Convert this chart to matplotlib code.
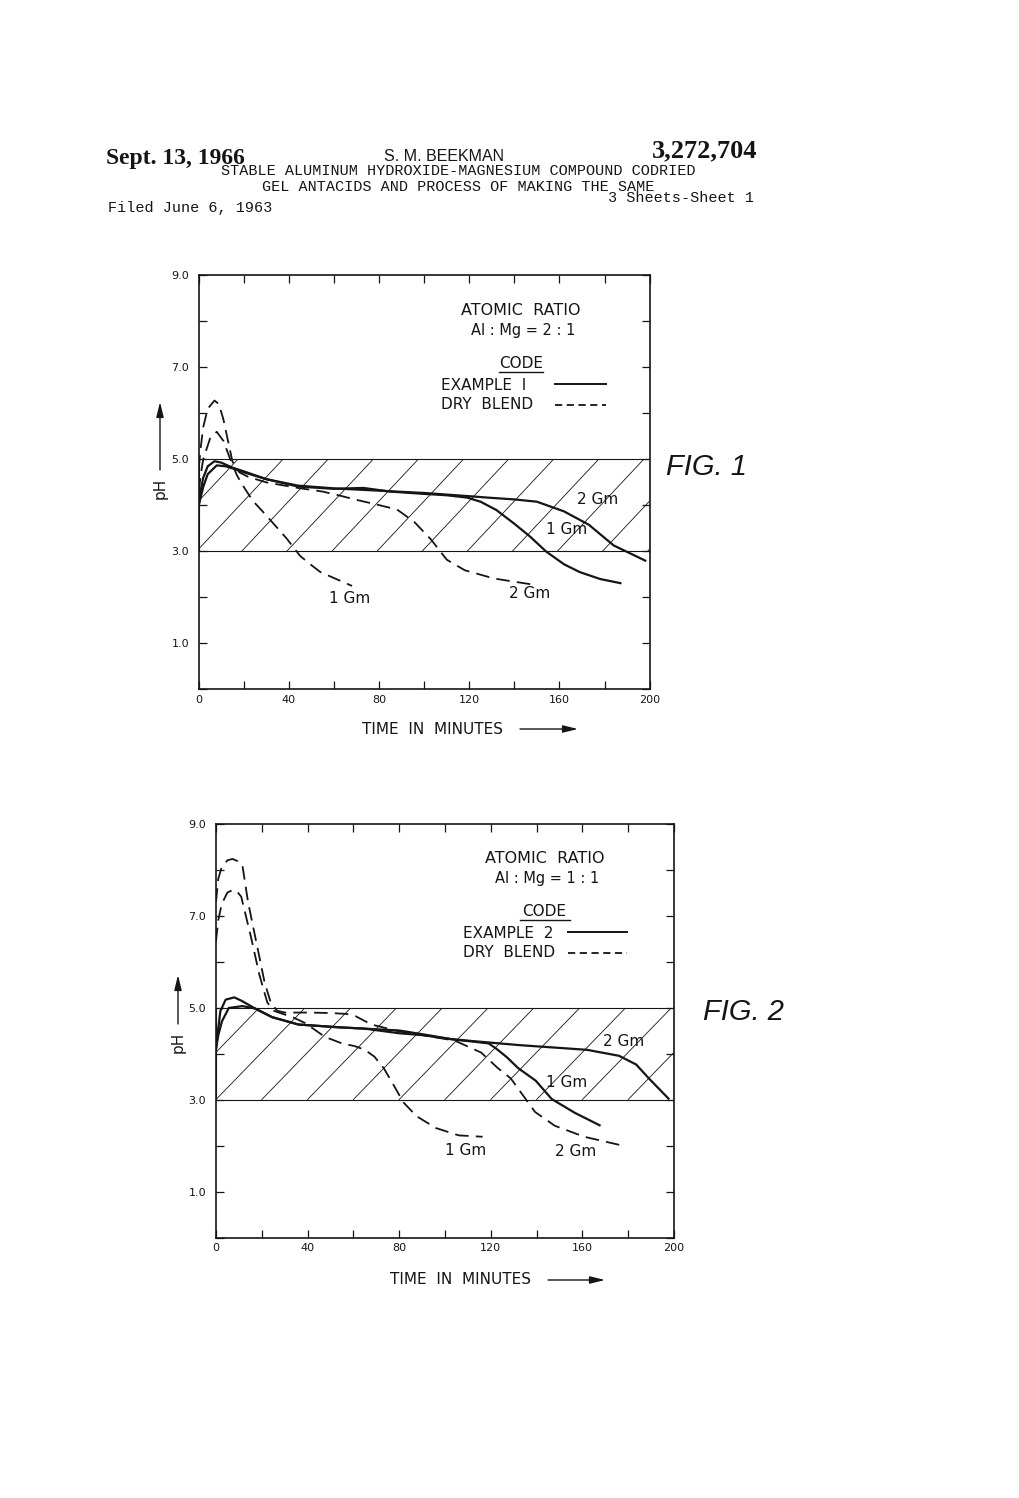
import matplotlib
matplotlib.use('Agg')
import matplotlib.pyplot as plt
from matplotlib.patches import Rectangle

W, H = 1020, 1498
INK = '#151515'

# ---------------- data ----------------
x_ticks = [0, 20, 40, 60, 80, 100, 120, 140, 160, 180, 200]
x_tick_labels = ['0', '', '40', '', '80', '', '120', '', '160', '', '200']
y_ticks = [0, 1, 2, 3, 4, 5, 6, 7, 8, 9]
y_tick_labels = ['', '1.0', '', '3.0', '', '5.0', '', '7.0', '', '9.0']
band_low, band_high = 3.0, 5.0

# FIG. 1  (Al:Mg = 2:1)
f1_ex_2gm_t = [0, 1, 2, 4, 7, 10, 15, 20, 30, 44, 60, 80, 100, 120, 128, 140, 150, 162, 173, 184, 198]
f1_ex_2gm_ph = [4.0, 4.35, 4.6, 4.85, 4.96, 4.93, 4.82, 4.74, 4.57, 4.43, 4.37, 4.32, 4.27, 4.2, 4.17, 4.13, 4.08, 3.87, 3.58, 3.13, 2.8]
f1_ex_1gm_t = [0, 1, 2, 4, 8, 12, 16, 20, 30, 44, 60, 73, 85, 100, 110, 119, 125, 132, 140, 147, 154, 162, 169, 178, 187]
f1_ex_1gm_ph = [4.0, 4.2, 4.4, 4.68, 4.87, 4.85, 4.79, 4.72, 4.57, 4.41, 4.36, 4.38, 4.3, 4.25, 4.22, 4.17, 4.08, 3.9, 3.6, 3.32, 3.0, 2.72, 2.55, 2.4, 2.31]
f1_db_2gm_t = [0, 1, 2, 4, 7, 9, 11, 13, 15, 18, 22, 30, 44, 55, 62, 70, 78, 88, 95.6, 103, 110, 118, 131, 148]
f1_db_2gm_ph = [4.8, 5.3, 5.7, 6.1, 6.28, 6.2, 5.86, 5.4, 4.95, 4.72, 4.62, 4.5, 4.38, 4.3, 4.22, 4.12, 4.03, 3.91, 3.64, 3.26, 2.82, 2.59, 2.41, 2.28]
f1_db_1gm_t = [0, 1, 2, 5, 8, 11, 14, 17, 20, 24, 30, 39, 45, 50, 54, 60, 68]
f1_db_1gm_ph = [4.3, 4.7, 5.0, 5.45, 5.6, 5.4, 5.0, 4.65, 4.4, 4.1, 3.78, 3.28, 2.9, 2.7, 2.55, 2.42, 2.25]

# FIG. 2  (Al:Mg = 1:1)
f2_ex_2gm_t = [0, 1, 1.9, 4.2, 8, 11, 17, 24.5, 36, 53.5, 65, 80, 90, 103, 119, 133, 162, 176, 183.5, 189, 197.6]
f2_ex_2gm_ph = [4.1, 4.55, 4.92, 5.17, 5.22, 5.15, 4.98, 4.79, 4.63, 4.57, 4.54, 4.44, 4.4, 4.31, 4.24, 4.18, 4.08, 3.95, 3.76, 3.46, 3.02]
f2_ex_1gm_t = [0, 1, 2.6, 5.6, 11.5, 17, 24.5, 36, 53.5, 65, 80, 90, 103, 119, 122, 127, 132, 139.6, 146.6, 156.7, 167.5]
f2_ex_1gm_ph = [4.1, 4.4, 4.7, 4.99, 5.03, 4.98, 4.79, 4.63, 4.57, 4.54, 4.5, 4.42, 4.31, 4.22, 4.12, 3.92, 3.68, 3.41, 3.01, 2.71, 2.44]
f2_db_2gm_t = [0, 1, 2.5, 5, 7.2, 9.5, 11.5, 14, 17.9, 21.2, 23.9, 26.7, 30, 40, 50, 57, 61, 67.5, 69.5, 80, 90, 104.3, 115.8, 122.9, 128.7, 132.9, 139.3, 147.9, 160.8, 178.2]
f2_db_2gm_ph = [7.3, 7.8, 8.05, 8.2, 8.23, 8.18, 8.1, 7.29, 6.35, 5.55, 5.11, 4.93, 4.89, 4.89, 4.88, 4.86, 4.81, 4.64, 4.61, 4.48, 4.4, 4.28, 4.02, 3.69, 3.46, 3.17, 2.73, 2.43, 2.19, 1.99]
f2_db_1gm_t = [0, 1, 2.5, 5, 7.6, 9.5, 11, 15.1, 19, 22.4, 25.2, 28, 33, 39, 47.6, 55, 60.6, 65, 69.2, 73.4, 77.6, 81.8, 87.5, 96, 106, 116.4]
f2_db_1gm_ph = [6.44, 6.9, 7.25, 7.5, 7.56, 7.5, 7.41, 6.57, 5.7, 5.11, 4.93, 4.88, 4.8, 4.66, 4.36, 4.22, 4.16, 4.08, 3.93, 3.67, 3.31, 2.94, 2.64, 2.38, 2.22, 2.19]

# ---------------- figure ----------------
fig = plt.figure(figsize=(W / 100, H / 100), dpi=100)
fig.patch.set_facecolor('white')
SANS = ['DejaVu Sans']


def fx(x):
    return x / W


def fy(y):
    return 1 - y / H


def make_axes(left, top, right, bottom):
    ax = fig.add_axes([fx(left), fy(bottom), (right - left) / W, (bottom - top) / H])
    ax.set_xlim(0, 200)
    ax.set_ylim(0, 9)
    ax.set_xticks(x_ticks)
    ax.set_xticklabels(x_tick_labels)
    ax.set_yticks(y_ticks)
    ax.set_yticklabels(y_tick_labels)
    ax.tick_params(axis='both', direction='in', length=6, width=0.9, top=True, right=True,
                   labelsize=8, colors=INK)
    ax.tick_params(axis='x', pad=4)
    ax.tick_params(axis='y', pad=7)
    for s in ax.spines.values():
        s.set_linewidth(1.2)
        s.set_color(INK)
    for lab in ax.get_xticklabels() + ax.get_yticklabels():
        lab.set_fontfamily(SANS)
    return ax


def band(ax, phase, run):
    rect = Rectangle((0, band_low), 200, band_high - band_low, fill=False, lw=0.8,
                     ec=INK, transform=ax.transData)
    ax.add_patch(rect)
    for k in range(-3, 11):
        t0 = 20 * k + phase
        ln, = ax.plot([t0, t0 + run], [band_low, band_high], color=INK, lw=0.6)
        ln.set_clip_path(rect)


def curves(ax, sets):
    for t, p, dashed in sets:
        if dashed:
            ax.plot(t, p, color=INK, lw=1.3, linestyle=(0, (7.5, 4)), solid_capstyle='butt')
        else:
            ax.plot(t, p, color=INK, lw=1.6)


def legend_block(ax, ratio_txt, ex_txt, t_center, t_left, t_l0, t_l1, ul0, ul1):
    kw = dict(color=INK, family=SANS)
    ax.text(t_center, 8.24, 'ATOMIC  RATIO', ha='center', va='center', fontsize=11.5, **kw)
    ax.text(t_center + 1, 7.80, ratio_txt, ha='center', va='center', fontsize=10.5, **kw)
    ax.text(t_center, 7.09, 'CODE', ha='center', va='center', fontsize=11, **kw)
    ax.plot([ul0, ul1], [6.91, 6.91], color=INK, lw=1.0)
    ax.text(t_left, 6.61, ex_txt, ha='left', va='center', fontsize=11, **kw)
    ax.text(t_left, 6.19, 'DRY  BLEND', ha='left', va='center', fontsize=11, **kw)
    ax.plot([t_l0, t_l1], [6.64, 6.64], color=INK, lw=1.4)
    ax.plot([t_l0, t_l1], [6.18, 6.18], color=INK, lw=1.3, linestyle=(0, (4, 2.5)))


def gm(ax, t, p, s):
    ax.text(t, p, s, ha='center', va='center', fontsize=11, color=INK, family=SANS)


def arrows(x_time, y_time, x0_arrow, x1_arrow, x_ph, y_ph_txt, y_ph0, y_ph1, fig_txt, fig_xy):
    fig.text(fx(x_time), fy(y_time), 'TIME  IN  MINUTES', ha='center', va='center',
             fontsize=11, color=INK, family=SANS)
    fig.add_artist(plt.Annotation('', xy=(x1_arrow, H - y_time), xytext=(x0_arrow, H - y_time),
                                  xycoords='figure pixels', textcoords='figure pixels',
                                  arrowprops=dict(arrowstyle='-|>,head_length=0.9,head_width=0.22',
                                                  lw=1.0, color=INK, shrinkA=0, shrinkB=0)))
    fig.text(fx(x_ph), fy(y_ph_txt), 'pH', ha='center', va='center', rotation=90,
             fontsize=11, color=INK, family=SANS)
    fig.add_artist(plt.Annotation('', xy=(x_ph, H - y_ph1), xytext=(x_ph, H - y_ph0),
                                  xycoords='figure pixels', textcoords='figure pixels',
                                  arrowprops=dict(arrowstyle='-|>,head_length=0.9,head_width=0.22',
                                                  lw=1.0, color=INK, shrinkA=0, shrinkB=0)))
    fig.text(fx(fig_xy[0]), fy(fig_xy[1]), fig_txt, ha='center', va='center', fontsize=21,
             style='italic', color=INK, family=['Liberation Sans Narrow', 'Liberation Sans'])


# ---- FIG 1 ----
ax1 = make_axes(198.7, 275.4, 649.7, 689.4)
band(ax1, -1, 38.3)
curves(ax1, [(f1_ex_2gm_t, f1_ex_2gm_ph, False), (f1_ex_1gm_t, f1_ex_1gm_ph, False),
             (f1_db_2gm_t, f1_db_2gm_ph, True), (f1_db_1gm_t, f1_db_1gm_ph, True)])
legend_block(ax1, 'Al : Mg = 2 : 1', 'EXAMPLE  I', 143, 107.5, 158, 180.5, 133, 152.6)
gm(ax1, 177, 4.12, '2 Gm')
gm(ax1, 163, 3.47, '1 Gm')
gm(ax1, 67, 1.97, '1 Gm')
gm(ax1, 146.6, 2.08, '2 Gm')
arrows(433, 729, 520, 578, 160, 488, 470, 402, 'FIG. 1', (707, 467))

# ---- FIG 2 ----
ax2 = make_axes(216, 823.5, 674, 1237.5)
band(ax2, 0, 39)
curves(ax2, [(f2_ex_2gm_t, f2_ex_2gm_ph, False), (f2_ex_1gm_t, f2_ex_1gm_ph, False),
             (f2_db_2gm_t, f2_db_2gm_ph, True), (f2_db_1gm_t, f2_db_1gm_ph, True)])
legend_block(ax2, 'Al : Mg = 1 : 1', 'EXAMPLE  2', 143.5, 108, 153.5, 179.3, 132.7, 154.5)
gm(ax2, 178, 4.25, '2 Gm')
gm(ax2, 153, 3.36, '1 Gm')
gm(ax2, 109, 1.89, '1 Gm')
gm(ax2, 157, 1.88, '2 Gm')
arrows(461, 1280, 548, 605, 178, 1042, 1024, 975, 'FIG. 2', (744, 1012))

# ---------------- header ----------------
SERIF = ['Liberation Serif', 'DejaVu Serif']
MONO = ['Liberation Mono', 'DejaVu Sans Mono']
fig.text(fx(106), fy(164), 'Sept. 13, 1966', ha='left', va='baseline', fontsize=17,
         fontweight='bold', family=SERIF, color=INK)
fig.text(fx(384), fy(161), 'S. M. BEEKMAN', ha='left', va='baseline', fontsize=11.5,
         family=['Liberation Sans', 'DejaVu Sans'], color=INK)
fig.text(fx(757), fy(157), '3,272,704', ha='right', va='baseline', fontsize=19,
         fontweight='bold', family=SERIF, color=INK)
fig.text(fx(221), fy(175), 'STABLE ALUMINUM HYDROXIDE-MAGNESIUM COMPOUND CODRIED',
         ha='left', va='baseline', fontsize=10.9, family=MONO, color=INK)
fig.text(fx(262), fy(191), 'GEL ANTACIDS AND PROCESS OF MAKING THE SAME',
         ha='left', va='baseline', fontsize=10.9, family=MONO, color=INK)
fig.text(fx(754), fy(202), '3 Sheets-Sheet 1', ha='right', va='baseline', fontsize=10.9,
         family=MONO, color=INK)
fig.text(fx(108), fy(212), 'Filed June 6, 1963', ha='left', va='baseline', fontsize=10.9,
         family=MONO, color=INK)

fig.savefig('out.png', dpi=100, facecolor='white')
